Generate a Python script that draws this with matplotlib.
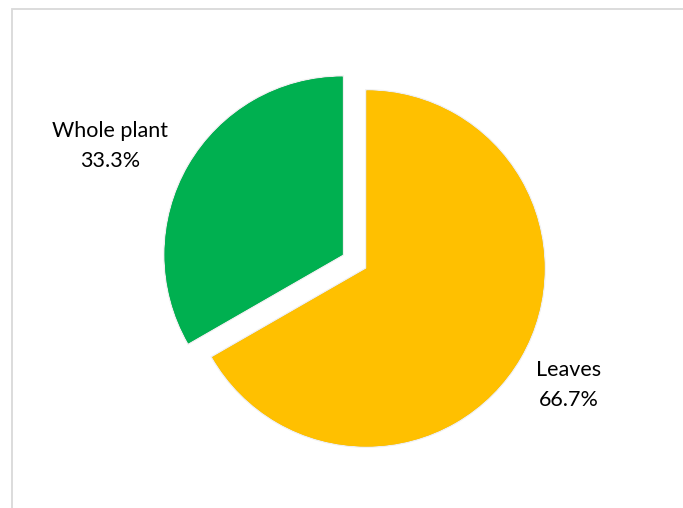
import numpy as np
import matplotlib.pyplot as plt
import matplotlib.patheffects as pe
from matplotlib.patches import Rectangle

# Share of samples by plant part
parts = ['Leaves', 'Whole plant']
shares = [66.7, 33.3]
colors = ['#FFC000', '#00B050']
explode = [0, 0.155]

# label placement: distance from slice centre (in radii) and angle tweak (deg)
label_dist = [1.31, 1.44]
label_turn = [0, 5]

W, H = 683, 508
fig = plt.figure(figsize=(W / 100, H / 100), dpi=100)
ax = fig.add_axes([0, 0, 1, 1])

# chart area border (runs off the right and bottom)
ax.add_patch(Rectangle((11.5, -5), W, H - 8.5 + 5, fill=False,
                       edgecolor='#D9D9D9', linewidth=1.3))

radius = 178
centre = (366.5, H - 268.5)
shadow = [pe.SimplePatchShadow(offset=(0, 0), shadow_rgbFace='#000000', alpha=0.06),
          pe.Stroke(linewidth=2, foreground='#00000010'), pe.Normal()]

# pie() takes explode in data units, so scale the fractions by the radius
wedges, _ = ax.pie(shares, colors=colors, explode=[e * radius for e in explode],
                   startangle=90, counterclock=False, radius=radius, center=centre,
                   wedgeprops=dict(linewidth=0, path_effects=shadow),
                   frame=True)
ax.set_xlim(0, W)
ax.set_ylim(0, H)
ax.set_aspect('equal')
ax.axis('off')

for w, name, val, d, turn in zip(wedges, parts, shares, label_dist, label_turn):
    ang = np.deg2rad((w.theta1 + w.theta2) / 2 + turn)
    cx, cy = w.center
    x = cx + d * w.r * np.cos(ang)
    y = cy + d * w.r * np.sin(ang)
    ax.text(x, y, f'{name}\n{val:.1f}%', ha='center', va='center',
            fontsize=15.5, family='Lato', color='#000000', linespacing=1.62)

fig.savefig('out.png', dpi=100)
